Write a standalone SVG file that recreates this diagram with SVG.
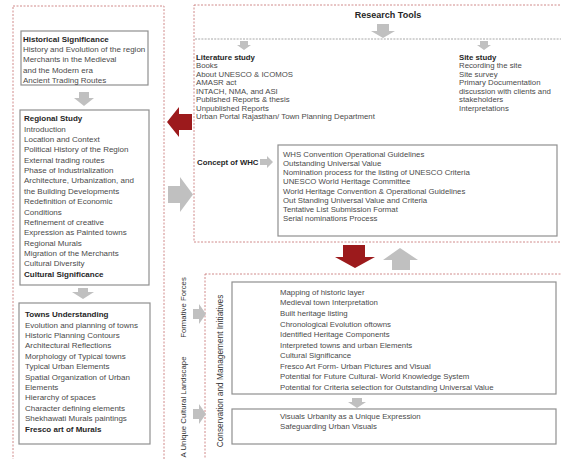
<svg xmlns="http://www.w3.org/2000/svg" width="561" height="459" viewBox="0 0 561 459">
<style>
text{font-family:"Liberation Sans",Arial,sans-serif;fill:#4a4a4a}
.l{font-size:8px}
.r{font-size:7.8px}
.b{font-weight:bold;fill:#262626}
.box{fill:#fff;stroke:#8f8f8f;stroke-width:1.2}
.dash{fill:none;stroke:#d08a8a;stroke-width:1;stroke-dasharray:2 1.5}
.ga{fill:#c0c0c0}
.ra{fill:#9c1a1c}
</style>
<rect width="561" height="459" fill="#fff"/>
<g id="left-panel">
<rect class="dash" x="13" y="6" width="151" height="470"/>
</g>
<g id="research-tools">
<rect class="dash" x="194" y="5" width="390" height="237"/>
<line x1="195" y1="39" x2="561" y2="39" stroke="#a8a8a8" stroke-width="1" stroke-dasharray="2 1.2"/>
<text class="b" x="388" y="18" text-anchor="middle" font-size="9px">Research Tools</text>
</g>
<g id="historical-significance">
<rect class="box" x="21" y="31" width="127" height="54"/>
<text class="l"><tspan class="b" x="23" y="41.5">Historical Significance</tspan><tspan x="23" y="51.9">History and Evolution of the region</tspan><tspan x="23" y="62.2">Merchants in the Medieval</tspan><tspan x="23" y="72.6">and the Modern era</tspan><tspan x="23" y="82.9">Ancient Trading Routes</tspan></text>
</g>
<g id="regional-study">
<rect class="box" x="20" y="110" width="129" height="175"/>
<text class="l"><tspan class="b" x="24" y="121.1">Regional Study</tspan><tspan x="24" y="131.5">Introduction</tspan><tspan x="24" y="141.9">Location and Context</tspan><tspan x="24" y="152.2">Political History of the Region</tspan><tspan x="24" y="162.6">External trading routes</tspan><tspan x="24" y="173">Phase of Industrialization</tspan><tspan x="24" y="183.4">Architecture, Urbanization, and</tspan><tspan x="24" y="193.8">the Building Developments</tspan><tspan x="24" y="204.1">Redefinition of Economic</tspan><tspan x="24" y="214.5">Conditions</tspan><tspan x="24" y="224.9">Refinement of creative</tspan><tspan x="24" y="235.3">Expression as Painted towns</tspan><tspan x="24" y="245.7">Regional Murals</tspan><tspan x="24" y="256">Migration of the Merchants</tspan><tspan x="24" y="266.4">Cultural Diversity</tspan><tspan class="b" x="24" y="276.8">Cultural Significance</tspan></text>
</g>
<g id="towns-understanding">
<rect class="box" x="19" y="303" width="131" height="141"/>
<text class="l"><tspan class="b" x="25" y="317.1">Towns Understanding</tspan><tspan x="25" y="327.5">Evolution and planning of towns</tspan><tspan x="25" y="337.9">Historic Planning Contours</tspan><tspan x="25" y="348.3">Architectural Reflections</tspan><tspan x="25" y="358.7">Morphology of Typical towns</tspan><tspan x="25" y="369.1">Typical Urban Elements</tspan><tspan x="25" y="379.5">Spatial Organization of Urban</tspan><tspan x="25" y="389.9">Elements</tspan><tspan x="25" y="400.3">Hierarchy of  spaces</tspan><tspan x="25" y="410.7">Character defining elements</tspan><tspan x="25" y="421.1">Shekhawati Murals paintings</tspan><tspan class="b" x="25" y="431.5">Fresco art of Murals</tspan></text>
</g>
<g id="literature-study">
<text class="r"><tspan class="b" x="196" y="59.7">Literature study</tspan><tspan x="196" y="68.2">Books</tspan><tspan x="196" y="76.8">About UNESCO &amp; ICOMOS</tspan><tspan x="196" y="85.3">AMASR act</tspan><tspan x="196" y="93.8">INTACH, NMA, and ASI</tspan><tspan x="196" y="102.3">Published Reports &amp; thesis</tspan><tspan x="196" y="110.8">Unpublished Reports</tspan><tspan x="196" y="119.3">Urban Portal Rajasthan/ Town Planning Department</tspan></text>
</g>
<g id="site-study">
<text class="r"><tspan class="b" x="459" y="59.7">Site study</tspan><tspan x="459" y="68.2">Recording the site</tspan><tspan x="459" y="76.8">Site survey</tspan><tspan x="459" y="85.3">Primary Documentation</tspan><tspan x="459" y="93.8">discussion with clients and</tspan><tspan x="459" y="102.3">stakeholders</tspan><tspan x="459" y="110.8">Interpretations</tspan></text>
</g>
<g id="concept-of-whc">
<text class="r b" x="197" y="164.5">Concept of WHC</text>
</g>
<g id="whc-details">
<rect class="box" x="278" y="145" width="279" height="91"/>
<text class="r"><tspan x="283" y="156.8">WHS Convention Operational Guidelines</tspan><tspan x="283" y="166">Outstanding Universal Value</tspan><tspan x="283" y="175.2">Nomination process for the listing of UNESCO Criteria</tspan><tspan x="283" y="184.4">UNESCO World Heritage Committee</tspan><tspan x="283" y="193.6">World Heritage Convention &amp; Operational Guidelines</tspan><tspan x="283" y="202.8">Out Standing Universal Value and Criteria</tspan><tspan x="283" y="212">Tentative List Submission Format</tspan><tspan x="283" y="221.2">Serial nominations Process</tspan></text>
</g>
<g id="cultural-landscape">
<text class="r" transform="translate(186,407) rotate(-90)" text-anchor="middle" fill="#333" style="fill:#333">A Unique Cultural Landscape</text>
<text class="r" transform="translate(186,307.5) rotate(-90)" text-anchor="middle" style="fill:#333">Formative Forces</text>
</g>
<g id="conservation-panel">
<rect class="dash" x="205" y="274" width="380" height="200"/>
<text transform="translate(223,371) rotate(-90)" text-anchor="middle" font-size="8.3px" style="fill:#333">Conservation and Management Initiatives</text>
</g>
<g id="interpretation">
<rect class="box" x="232" y="282" width="324" height="112"/>
<text class="r"><tspan x="280" y="294.8">Mapping of historic layer</tspan><tspan x="280" y="305.4">Medieval town Interpretation</tspan><tspan x="280" y="315.9">Built heritage listing</tspan><tspan x="280" y="326.5">Chronological Evolution oftowns</tspan><tspan x="280" y="337">Identified Heritage Components</tspan><tspan x="280" y="347.6">Interpreted towns and urban Elements</tspan><tspan x="280" y="358.1">Cultural Significance</tspan><tspan x="280" y="368.7">Fresco Art Form- Urban Pictures and Visual</tspan><tspan x="280" y="379.2">Potential for Future Cultural- World Knowledge System</tspan><tspan x="280" y="389.8">Potential for Criteria selection for Outstanding Universal Value</tspan></text>
</g>
<g id="safeguarding">
<rect class="box" x="232" y="409" width="324" height="35"/>
<text class="r"><tspan x="280" y="418.8">Visuals Urbanity as a Unique Expression</tspan><tspan x="280" y="428.8">Safeguarding Urban Visuals</tspan></text>
</g>
<g id="connectors">
<polygon class="ga" points="377,24 389,24 389,31 395,31 383,38 371,31 377,31"/>
<polygon class="ga" points="240,41 248,41 248,45 251,45 244,50 237,45 240,45"/>
<polygon class="ga" points="480,41 488,41 488,45 491,45 484,50 477,45 480,45"/>
<polygon class="ga" points="79,92 89,92 89,98 94,98 84,106 74,98 79,98"/>
<polygon class="ga" points="78,288 88,288 88,292 94,292 83,299 72,292 78,292"/>
<polygon class="ra" points="167,122 179,107 179,114 192,114 192,130 179,130 179,137"/>
<polygon class="ga" points="168,186 180,186 180,177 193,194.5 180,212 180,203 168,203"/>
<polygon class="ga" points="260,159 267,159 267,156 273,162 267,168 267,165 260,165"/>
<polygon class="ra" points="343,245 365,245 365,257 375,257 355,268 335,257 343,257"/>
<polygon class="ga" points="400,248 418,260 410,260 410,270 392,270 392,260 383,260"/>
<polygon class="ga" points="193,309 199,309 199,304 206,314 199,324 199,319 193,319"/>
<polygon class="ga" points="193,409 199,409 199,404 206,414 199,424 199,419 193,419"/>
<polygon class="ga" points="352,398 362,398 362,402 366,402 357,408 348,402 352,402"/>
</g>
</svg>
